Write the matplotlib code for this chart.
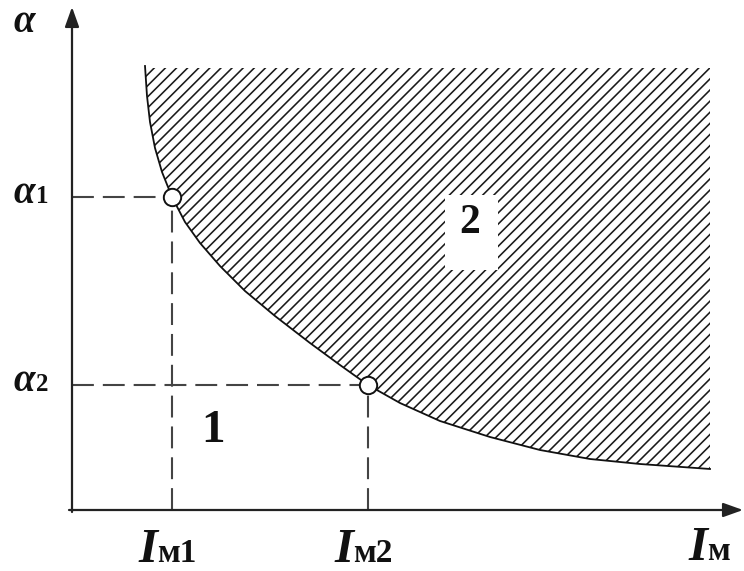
import matplotlib
matplotlib.use('Agg')
import matplotlib.pyplot as plt
from matplotlib.patches import Rectangle

# Граничная кривая α(Iм), область 2 заштрихована
I_curve = [73, 75, 78, 83, 90, 100, 113, 128, 148, 173, 203, 238, 268, 296,
           328, 368, 418, 468, 518, 568, 638]
alpha_curve = [444, 414, 388, 362, 338, 313, 288, 267, 244, 219, 194, 167,
               145, 125, 107, 89, 73, 60, 51, 46, 41]
alpha_top = 442

# Характерные точки на кривой
I_pts = [100, 296]
alpha_pts = [313, 125]
pt_labels = ['1', '2']

plt.rcParams['hatch.linewidth'] = 1.15
plt.rcParams['hatch.color'] = '#1a1a1a'

fig = plt.figure(figsize=(7.44, 5.71), dpi=100)
ax = fig.add_axes([0, 0, 1, 1])
ax.set_xlim(-72, 672)
ax.set_ylim(-61, 510)
ax.axis('off')

ax.fill_between(I_curve, alpha_curve, alpha_top, facecolor='white',
                edgecolor='#1a1a1a', linewidth=0, hatch='///')
ax.plot(I_curve, alpha_curve, color='#111111', lw=1.3, zorder=3)

# Оси со стрелками
arw = dict(arrowstyle='-|>,head_length=12,head_width=4.3', lw=1.6,
           color='#222222', mutation_scale=1, shrinkA=0, shrinkB=0)
ax.annotate('', xy=(0, 503), xytext=(0, -2), arrowprops=arw)
ax.annotate('', xy=(671, 0), xytext=(-3, 0), arrowprops=arw)

# Пунктирные проекции точек
for I, a in zip(I_pts, alpha_pts):
    ax.plot([0, I], [a, a], color='#444444', lw=1.5, dashes=(10.5, 4.3),
            zorder=2)
    ax.plot([I, I], [0, a], color='#444444', lw=1.5, dashes=(10.5, 4.3),
            zorder=2)
ax.plot(I_pts, alpha_pts, 'o', ms=12.5, mfc='white', mec='#111111', mew=1.4,
        zorder=5)

fam = 'Liberation Serif'
big = dict(family=fam, weight='bold', style='italic', color='#111111',
           va='baseline', ha='left')
sub = dict(family=fam, weight='bold', color='#111111', va='baseline',
           ha='left')

ax.text(-59, 478, 'α', fontsize=28, **big)
for a, lab in zip(alpha_pts, pt_labels):
    ax.text(-59, a - 6, 'α', fontsize=28, **big)
    ax.text(-36, a - 6, lab, fontsize=18, **sub)

for I, lab in zip(I_pts, pt_labels):
    ax.text(I - 34, -52, 'I', fontsize=35, **big)
    ax.text(I - 15, -52, 'м' + lab, fontsize=24, **sub)
ax.text(616, -50, 'I', fontsize=35, **big)
ax.text(635, -50, 'м', fontsize=24, **sub)

# Номера областей
ax.text(141, 68, '1', fontsize=34, family=fam, weight='bold', ha='center',
        va='baseline', color='#111111')
ax.add_patch(Rectangle((373, 240), 53, 75, facecolor='white',
                       edgecolor='none', zorder=4))
ax.text(398, 277, '2', fontsize=30, family=fam, weight='bold', ha='center',
        va='baseline', color='#111111', zorder=6)

fig.savefig('out.png', dpi=100)
